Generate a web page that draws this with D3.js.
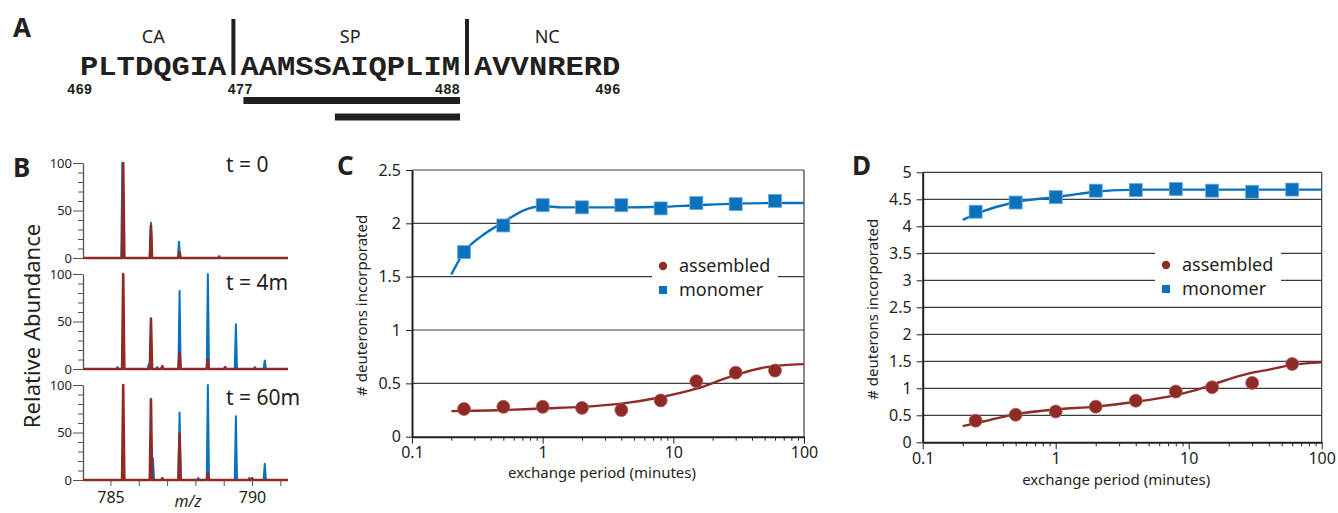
<!DOCTYPE html>
<html>
<head>
<meta charset="utf-8">
<script src="https://cdn.jsdelivr.net/npm/d3@7"></script>
<style>
    body { margin: 0; background: #fff; }
    text { font-family: "Noto Sans", "Open Sans", sans-serif; fill: #231f20; }
</style>
</head>
<body>
<script>
/* Figure: sequence map (A), mass spectra (B), deuterium uptake curves (C, D) */

// ---- A: sequence around the CA-SP-NC junction
var segLabels = ['CA', 'SP', 'NC']
var segSeqs = ['PLTDQGIA', 'AAMSSAIQPLIM', 'AVVNRERD']
var segFirst = [469, 477, 489]
var residueMarks = [469, 477, 488, 496]
var peptides = [[477, 488], [482, 488]]

// ---- B: isotope envelopes, [m/z, relative abundance]
var timeLabels = ['t = 0', 't = 4m', 't = 60m']
var mzTicks = [785, 790]
var monomerPeaks = [
    [[785.42, 100], [786.43, 37], [787.42, 17], [788.84, 2]],
    [[785.25, 2], [786.35, 5], [786.65, 2], [787.44, 82], [788.44, 100], [789.43, 47], [790.1, 2], [790.45, 9]],
    [[786.5, 23], [787.44, 71], [788.1, 2], [788.44, 100], [789.43, 67], [789.9, 2], [790.45, 17]]
]
var assembledPeaks = [
    [[785.45, 100], [786.43, 34], [787.44, 6]],
    [[785.45, 100], [786.43, 53], [786.83, 3], [787.44, 17], [788.44, 10], [789.05, 2]],
    [[785.45, 100], [786.43, 85], [786.83, 2], [787.44, 49], [788.44, 7], [790.0, 2]]
]

// ---- C / D: deuterons incorporated vs exchange period (minutes)
var times = [0.25, 0.5, 1, 2, 4, 8, 15, 30, 60]
var cAssembled = [0.26, 0.28, 0.28, 0.27, 0.25, 0.34, 0.52, 0.60, 0.62]
var cMonomer = [1.73, 1.98, 2.17, 2.15, 2.17, 2.14, 2.19, 2.18, 2.21]
var dAssembled = [0.40, 0.51, 0.57, 0.66, 0.77, 0.94, 1.02, 1.10, 1.45]
var dMonomer = [4.27, 4.44, 4.54, 4.66, 4.67, 4.69, 4.66, 4.64, 4.68]

// fitted curves
var cFitAssembledX = [0.2, 0.5, 1, 2, 4, 8, 15, 27, 50, 100]
var cFitAssembledY = [0.24, 0.25, 0.265, 0.28, 0.31, 0.37, 0.45, 0.56, 0.65, 0.68]
var cFitMonomerX = [0.2, 0.25, 0.34, 0.5, 0.71, 1, 1.4, 2, 4, 8, 15, 30, 60, 100]
var cFitMonomerY = [1.52, 1.73, 1.88, 2.01, 2.12, 2.16, 2.15, 2.15, 2.15, 2.155, 2.17, 2.185, 2.19, 2.19]
var dFitAssembledX = [0.2, 0.29, 0.5, 1, 2, 4, 8, 11.5, 16, 29, 41, 58, 100]
var dFitAssembledY = [0.30, 0.39, 0.52, 0.61, 0.66, 0.75, 0.875, 0.97, 1.09, 1.28, 1.35, 1.43, 1.48]
var dFitMonomerX = [0.2, 0.3, 0.4, 0.5, 0.7, 1, 1.5, 2, 3, 4, 100]
var dFitMonomerY = [4.12, 4.3, 4.39, 4.45, 4.5, 4.54, 4.6, 4.64, 4.67, 4.68, 4.68]

var legendNames = ['assembled', 'monomer']

var red = '#8e2b26'
var blue = '#0a72bd'
var ink = '#231f20'

var svg = d3.select('body').append('svg')
    .attr('width', 1338)
    .attr('height', 513)

svg.append('rect')
    .attr('width', '100%')
    .attr('height', '100%')
    .attr('fill', '#fff')

function panelLetter(t, x, y) {
    svg.append('text')
        .attr('x', x).attr('y', y)
        .style('font-size', '26px')
        .style('font-weight', 'bold')
        .text(t)
}

function drawSequence() {
    var adv = 18.3, gap = 14, x0 = 80
    function resX(r) {
        var k = 0
        segFirst.forEach(function(f, i) { if (i > 0 && r >= f) k++ })
        return x0 + (r - segFirst[0]) * adv + k * gap
    }
    var g = svg.append('g')
    segSeqs.forEach(function(s, i) {
        var xs = resX(segFirst[i]), w = s.length * adv
        g.append('text')
            .attr('x', xs).attr('y', 75)
            .attr('textLength', w)
            .attr('lengthAdjust', 'spacingAndGlyphs')
            .style('font-family', '"Liberation Mono", "DejaVu Sans Mono", monospace')
            .style('font-weight', 'bold')
            .style('font-size', '28px')
            .text(s)
        g.append('text')
            .attr('x', xs + w / 2).attr('y', 43)
            .attr('text-anchor', 'middle')
            .style('font-size', '18px')
            .text(segLabels[i])
        if (i > 0) {
            g.append('rect')
                .attr('x', xs - gap / 2 - 2).attr('y', 19)
                .attr('width', 4).attr('height', 56)
                .attr('fill', ink)
        }
    })
    residueMarks.forEach(function(r) {
        var isStart = segFirst.indexOf(r) >= 0
        g.append('text')
            .attr('x', isStart ? resX(r) - 13 : resX(r) + adv)
            .attr('y', 94)
            .attr('text-anchor', isStart ? 'start' : 'end')
            .style('font-family', '"Liberation Mono", "DejaVu Sans Mono", monospace')
            .style('font-weight', 'bold')
            .style('font-size', '14px')
            .text(r)
    })
    g.selectAll('.pep').data(peptides).enter().append('rect')
        .attr('x', function(d) { return resX(d[0]) + 3 })
        .attr('y', function(d, i) { return 97 + i * 16.5 })
        .attr('width', function(d) { return resX(d[1]) + adv - resX(d[0]) - 3 })
        .attr('height', 7)
        .attr('fill', ink)
}

function drawSpectra() {
    var left = 83, right = 288, h = 95
    var tops = [163, 274, 385]
    var labelY = [172, 290, 405]
    var x = d3.scaleLinear().domain([784.03, 791.27]).range([left, right])

    timeLabels.forEach(function(lab, i) {
        var y = d3.scaleLinear().domain([0, 100]).range([tops[i] + h, tops[i]])
        var g = svg.append('g')
        var ax = g.append('g')
            .attr('transform', 'translate(' + left + ',0)')
            .call(d3.axisLeft(y).tickValues(d3.range(0, 101, 10)).tickSize(5).tickSizeOuter(0)
                .tickFormat(function(d) { return d % 50 ? '' : d }))
        ax.select('.domain').attr('stroke', '#555').attr('stroke-width', 1.3)
        ax.selectAll('.tick line').attr('stroke', '#555')
            .attr('x2', function(d) { return d % 50 ? -5 : -10 })
        ax.selectAll('.tick text').attr('x', -11)
            .style('font-family', '"Noto Sans", sans-serif').style('font-size', '13px').attr('fill', ink)

        g.append('line')
            .attr('x1', left).attr('x2', right)
            .attr('y1', y(0)).attr('y2', y(0))
            .attr('stroke', '#555').attr('stroke-width', 1.3)

        var line = d3.line()
            .x(function(d) { return x(d[0]) })
            .y(function(d) { return y(d[1]) })
        function pts(peaks) {
            var p = [[x.domain()[0], 0]]
            peaks.forEach(function(q) { p.push([q[0] - 0.04, 0], [q[0], q[1]], [q[0] + 0.04, 0]) })
            p.push([x.domain()[1], 0])
            return p
        }
        g.append('path').attr('d', line(pts(monomerPeaks[i])))
            .attr('fill', blue).attr('stroke', blue).attr('stroke-width', 2)
            .attr('stroke-linejoin', 'round')
        g.append('path').attr('d', line(pts(assembledPeaks[i])))
            .attr('fill', red).attr('stroke', red).attr('stroke-width', 2.6)
            .attr('stroke-linejoin', 'round')

        g.append('text')
            .attr('x', 226).attr('y', labelY[i])
            .style('font-size', '21px')
            .text(lab)
    })

    var xa = svg.append('g')
        .attr('transform', 'translate(0,' + (tops[2] + h) + ')')
        .call(d3.axisBottom(x).tickValues(d3.range(785, 792)).tickSize(6).tickSizeOuter(0)
            .tickFormat(function(d) { return mzTicks.indexOf(d) >= 0 ? d : '' }))
    xa.select('.domain').remove()
    xa.selectAll('.tick line').attr('stroke', '#555')
    xa.selectAll('.tick text').attr('y', 12)
        .style('font-family', '"Noto Sans", sans-serif').style('font-size', '16px').attr('fill', ink)

    svg.append('text')
        .attr('x', 188).attr('y', 507)
        .attr('text-anchor', 'middle')
        .style('font-size', '16px').style('font-style', 'italic')
        .text('m/z')

    svg.append('text')
        .attr('transform', 'translate(40,' + 326 + ') rotate(-90)')
        .attr('text-anchor', 'middle')
        .style('font-size', '22px')
        .text('Relative Abundance')
}

function drawUptake(o) {
    var x = d3.scaleLog().domain([0.1, 100]).range([o.left, o.right])
    var y = d3.scaleLinear().domain([0, o.yMax]).range([o.bottom, o.top])
    var g = svg.append('g')

    g.selectAll('.grid').data(o.yTicks.filter(function(d) { return d > 0 })).enter().append('line')
        .attr('x1', o.left).attr('x2', o.right)
        .attr('y1', function(d) { return y(d) }).attr('y2', function(d) { return y(d) })
        .attr('stroke', '#3c3c3c').attr('stroke-width', 1.2)
    g.append('line')
        .attr('x1', o.right).attr('x2', o.right)
        .attr('y1', o.top).attr('y2', o.bottom)
        .attr('stroke', '#3c3c3c').attr('stroke-width', 1.2)

    // legend sits on a white box that hides the gridlines behind it
    g.append('rect')
        .attr('x', o.legX).attr('y', o.legY)
        .attr('width', 126).attr('height', 52)
        .attr('fill', '#fff')

    var ya = g.append('g')
        .attr('transform', 'translate(' + o.left + ',0)')
        .call(d3.axisLeft(y).tickValues(o.yTicks).tickSize(6).tickSizeOuter(0)
            .tickFormat(function(d) { return String(d) }))
    ya.select('.domain').attr('stroke', ink).attr('stroke-width', 2)
    ya.selectAll('.tick line').attr('stroke', ink)
    ya.selectAll('.tick text').attr('x', -11)
        .style('font-family', '"Noto Sans", sans-serif').style('font-size', '16px').attr('fill', ink)

    var majors = [0.1, 1, 10, 100]
    var xa = g.append('g')
        .attr('transform', 'translate(0,' + o.bottom + ')')
        .call(d3.axisBottom(x).tickValues(majors).tickSize(7).tickSizeOuter(0)
            .tickFormat(function(d) { return String(d) }))
    xa.select('.domain').attr('stroke', ink).attr('stroke-width', 2)
    xa.selectAll('.tick line').attr('stroke', ink)
    xa.selectAll('.tick text').attr('y', 10)
        .style('font-family', '"Noto Sans", sans-serif').style('font-size', '16px').attr('fill', ink)
    var xm = g.append('g')
        .attr('transform', 'translate(0,' + o.bottom + ')')
        .call(d3.axisBottom(x).tickValues(x.ticks().filter(function(d) { return majors.indexOf(d) < 0 }))
            .tickSize(4).tickFormat(''))
    xm.select('.domain').remove()
    xm.selectAll('.tick line').attr('stroke', ink)

    var fit = d3.line()
        .x(function(d) { return x(d[0]) })
        .y(function(d) { return y(d[1]) })
        .curve(d3.curveMonotoneX)
    g.append('path').attr('d', fit(d3.zip(o.fitMx, o.fitMy)))
        .attr('fill', 'none').attr('stroke', blue).attr('stroke-width', 2.4)
    g.append('path').attr('d', fit(d3.zip(o.fitAx, o.fitAy)))
        .attr('fill', 'none').attr('stroke', red).attr('stroke-width', 2.4)

    g.selectAll('.mono').data(d3.zip(times, o.mono)).enter().append('rect')
        .attr('x', function(d) { return x(d[0]) - 6.5 })
        .attr('y', function(d) { return y(d[1]) - 6.5 })
        .attr('width', 13).attr('height', 13)
        .attr('fill', blue).attr('stroke', '#6ea9dc').attr('stroke-width', 0.8)
    g.selectAll('.asm').data(d3.zip(times, o.asm)).enter().append('circle')
        .attr('cx', function(d) { return x(d[0]) })
        .attr('cy', function(d) { return y(d[1]) })
        .attr('r', 6.5)
        .attr('fill', red).attr('stroke', '#b0615b').attr('stroke-width', 0.8)

    // legend
    g.append('circle')
        .attr('cx', o.legX + 11).attr('cy', o.legY + 16).attr('r', 4.2)
        .attr('fill', red)
    g.append('rect')
        .attr('x', o.legX + 7).attr('y', o.legY + 36)
        .attr('width', 8).attr('height', 8)
        .attr('fill', blue)
    legendNames.forEach(function(n, i) {
        g.append('text')
            .attr('x', o.legX + 27).attr('y', o.legY + 22 + i * 24)
            .style('font-size', '18px').attr('fill', '#333')
            .text(n)
    })

    g.append('text')
        .attr('x', (o.left + o.right) / 2 - 6).attr('y', o.bottom + o.titleDy)
        .attr('text-anchor', 'middle')
        .style('font-size', '15px')
        .text('exchange period (minutes)')
    g.append('text')
        .attr('transform', 'translate(' + (o.left - 45) + ',' + ((o.top + o.bottom) / 2 + 2) + ') rotate(-90)')
        .attr('text-anchor', 'middle')
        .style('font-size', '15px')
        .text('# deuterons incorporated')
}

function init() {
    panelLetter('A', 13, 37)
    panelLetter('B', 13, 177)
    panelLetter('C', 337, 175)
    panelLetter('D', 852, 175)
    drawSequence()
    drawSpectra()
    drawUptake({
        left: 412, right: 804, top: 170, bottom: 436.7, yMax: 2.5,
        yTicks: [0, 0.5, 1, 1.5, 2, 2.5],
        asm: cAssembled, mono: cMonomer,
        fitAx: cFitAssembledX, fitAy: cFitAssembledY,
        fitMx: cFitMonomerX, fitMy: cFitMonomerY,
        legX: 652, legY: 250, titleDy: 41
    })
    drawUptake({
        left: 922.7, right: 1321.7, top: 172.3, bottom: 442.3, yMax: 5,
        yTicks: d3.range(0, 5.01, 0.5),
        asm: dAssembled, mono: dMonomer,
        fitAx: dFitAssembledX, fitAy: dFitAssembledY,
        fitMx: dFitMonomerX, fitMy: dFitMonomerY,
        legX: 1155, legY: 249, titleDy: 43
    })
}

init()
</script>
</body>
</html>
